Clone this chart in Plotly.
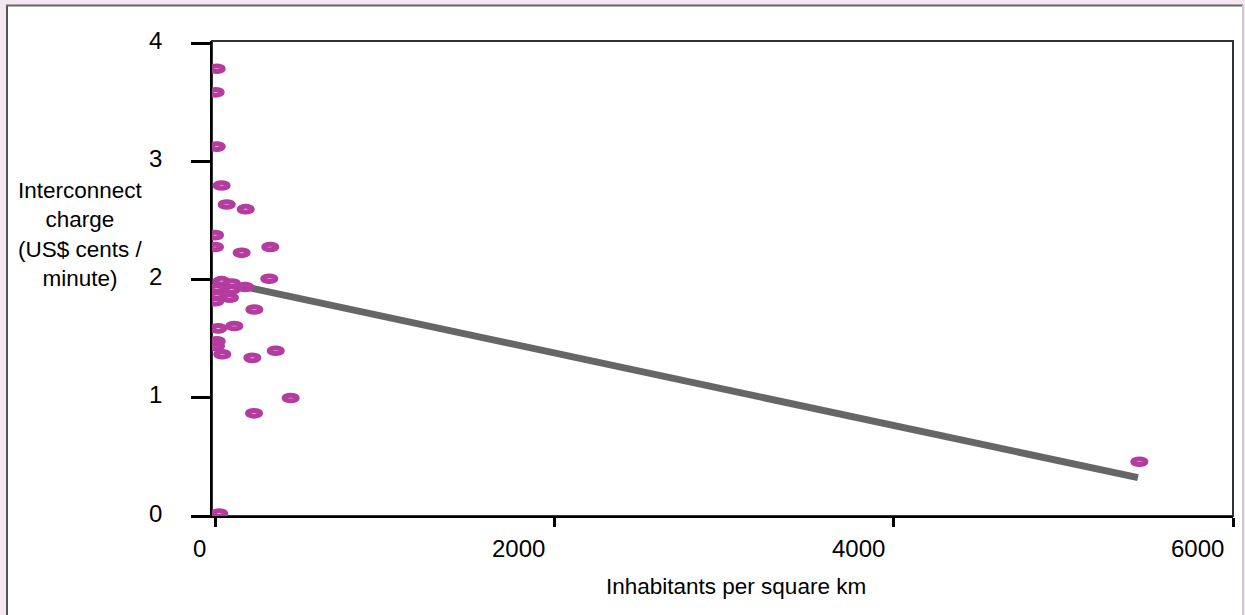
import plotly.graph_objects as go

# ---- data ----
density = [10, 4, 10, 39, 69, 181, 0, 0, 157, 326, 320, 38, 100, 177, 10, 98, 10, 88, 2,
           232, 19, 114, 10, 6, 43, 220, 358, 446, 230, 25, 5448]
charge = [3.79, 3.59, 3.13, 2.80, 2.64, 2.60, 2.38, 2.28, 2.23, 2.28, 2.01, 1.99, 1.97, 1.94,
          1.93, 1.92, 1.87, 1.85, 1.82, 1.75, 1.59, 1.61, 1.48, 1.44, 1.37, 1.34, 1.40, 1.00,
          0.87, 0.02, 0.46]
trend_x = [150, 5440]
trend_y = [1.95, 0.325]
x_ticks = [0, 2000, 4000, 6000]
y_ticks = [0, 1, 2, 3, 4]

FONT = "Liberation Sans, Arial, sans-serif"
MAG = "#b33c9e"
W, H = 1245, 615
L, R, T, B = 212, 12, 41, 99
pw, ph = W - L - R, H - T - B

def px_x(p):
    return (p - L) / pw

def px_y(p):
    return (H - B - p) / ph

fig = go.Figure()

fig.add_trace(go.Scatter(x=trend_x, y=trend_y, mode="lines",
                         line=dict(color="#666666", width=7), hoverinfo="skip",
                         showlegend=False))
fig.add_trace(go.Scatter(x=density, y=charge, mode="markers",
                         marker=dict(size=2, color="rgba(255,255,255,0.01)"),
                         showlegend=False))

shapes = []
# outer panel
shapes.append(dict(type="rect", xref="paper", yref="paper", layer="below",
                   x0=px_x(6), x1=px_x(1243), y0=px_y(640), y1=px_y(5),
                   fillcolor="white", line=dict(width=0)))
shapes.append(dict(type="line", xref="paper", yref="paper", layer="below",
                   x0=px_x(7), x1=px_x(7), y0=px_y(640), y1=px_y(5),
                   line=dict(color="#555555", width=2)))
shapes.append(dict(type="line", xref="paper", yref="paper", layer="below",
                   x0=px_x(6), x1=px_x(1243), y0=px_y(5.5), y1=px_y(5.5),
                   line=dict(color="#666666", width=2)))
shapes.append(dict(type="line", xref="paper", yref="paper", layer="below",
                   x0=px_x(1243), x1=px_x(1243), y0=px_y(640), y1=px_y(5),
                   line=dict(color="#cccccc", width=2)))
# plot frame
shapes.append(dict(type="rect", xref="paper", yref="paper", layer="below",
                   x0=0, x1=1, y0=0, y1=1, line=dict(color="#333333", width=2)))
# ellipse markers
for xv, yv in zip(density, charge):
    shapes.append(dict(type="circle", layer="above",
                       xref="x", yref="y", xsizemode="pixel", ysizemode="pixel",
                       xanchor=xv, yanchor=yv, x0=-6.5, x1=6.5, y0=-2.8, y1=2.8,
                       line=dict(color=MAG, width=5), fillcolor="rgba(0,0,0,0)"))

annotations = []
for t in x_ticks:
    annotations.append(dict(x=t, y=0, xref="x", yref="paper", text=str(t),
                            showarrow=False, xanchor="right", yanchor="middle",
                            xshift=-7, yshift=-32,
                            font=dict(family=FONT, size=24, color="black")))
for t in y_ticks:
    annotations.append(dict(x=0, y=t, xref="paper", yref="y", text=str(t),
                            showarrow=False, xanchor="right", yanchor="middle",
                            xshift=-48, yshift=3,
                            font=dict(family=FONT, size=24, color="black")))
annotations.append(dict(x=px_x(80), y=px_y(235), xref="paper", yref="paper",
                        text="Interconnect<br>charge<br>(US$ cents /<br>minute)",
                        showarrow=False, xanchor="center", yanchor="middle", align="center",
                        font=dict(family=FONT, size=22.5, color="black")))
annotations.append(dict(x=px_x(736), y=px_y(586), xref="paper", yref="paper",
                        text="Inhabitants per square km",
                        showarrow=False, xanchor="center", yanchor="middle",
                        font=dict(family=FONT, size=22.5, color="black")))

fig.update_layout(
    width=W, height=H,
    margin=dict(l=L, r=R, t=T, b=B, pad=0),
    paper_bgcolor="#f3e7f1",
    plot_bgcolor="white",
    shapes=shapes,
    annotations=annotations,
    font=dict(family=FONT, size=21, color="black"),
    xaxis=dict(range=[-17.7, 6000], tickvals=x_ticks, showticklabels=False,
               ticks="outside", ticklen=9, tickwidth=3, tickcolor="black",
               showline=True, linecolor="black", linewidth=2,
               showgrid=False, zeroline=False),
    yaxis=dict(range=[0, 4.025], tickvals=y_ticks, showticklabels=False,
               ticks="outside", ticklen=19, tickwidth=3, tickcolor="black",
               showline=True, linecolor="black", linewidth=2,
               showgrid=False, zeroline=False),
)

fig.write_html("out.html", config={"displayModeBar": False},
               post_script="document.body.style.margin='0';document.body.style.background='#f3e7f1';")
